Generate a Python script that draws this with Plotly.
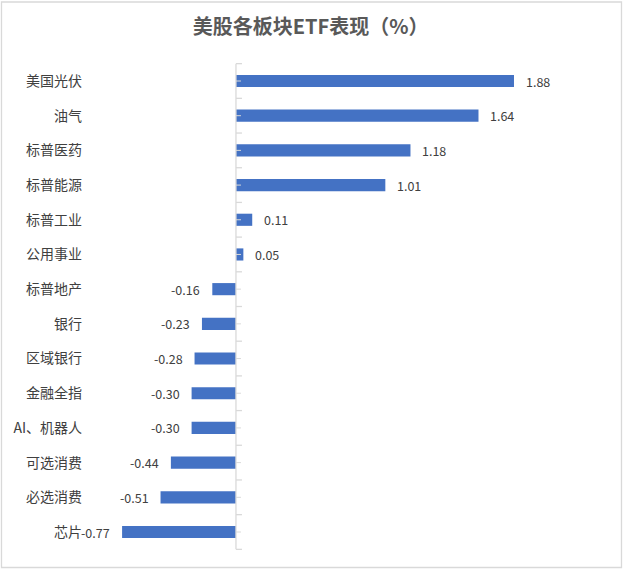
import plotly.graph_objects as go

categories = ["美国光伏", "油气", "标普医药", "标普能源", "标普工业", "公用事业", "标普地产",
              "银行", "区域银行", "金融全指", "AI、机器人", "可选消费", "必选消费", "芯片"]
values = [1.88, 1.64, 1.18, 1.01, 0.11, 0.05, -0.16, -0.23, -0.28, -0.30, -0.30, -0.44, -0.51, -0.77]
value_labels = ["1.88", "1.64", "1.18", "1.01", "0.11", "0.05", "-0.16", "-0.23", "-0.28",
                "-0.30", "-0.30", "-0.44", "-0.51", "-0.77"]
title_text = "美股各板块ETF表现（%）"

W, H = 625, 573
ML, MR, MT, MB = 90, 35, 63, 23
plot_w = W - ML - MR
plot_h = H - MT - MB
xmin, xmax = -0.987, 2.394

FONT = "Noto Sans CJK SC, Microsoft YaHei, sans-serif"
TXT = "#404040"
AX = "#d9d9d9"

fig = go.Figure(go.Bar(
    x=values, y=categories, orientation="h",
    marker=dict(color="#4472C4", line=dict(width=0)),
    hoverinfo="skip",
))

annotations = []
for c, v, lab in zip(categories, values, value_labels):
    annotations.append(dict(
        x=v, y=c, xref="x", yref="y", text=lab, showarrow=False,
        xanchor="left" if v >= 0 else "right",
        xshift=10 if v >= 0 else -10,
        font=dict(family=FONT, size=12.5, color=TXT),
    ))

shapes = []
n = len(categories)
# axis line at zero
shapes.append(dict(type="line", xref="x", yref="y", x0=0, x1=0, y0=-0.5, y1=n - 0.5,
                   line=dict(color=AX, width=1.3), layer="above"))
# tick marks at category boundaries
for i in range(n + 1):
    shapes.append(dict(type="line", xref="x", yref="y", xsizemode="pixel", xanchor=0,
                       x0=0, x1=6, y0=i - 0.5, y1=i - 0.5,
                       line=dict(color=AX, width=1.3), layer="above"))
# minor tick marks at category centres
for i in range(n):
    shapes.append(dict(type="line", xref="x", yref="y", xsizemode="pixel", xanchor=0,
                       x0=0, x1=5, y0=i, y1=i,
                       line=dict(color=AX, width=1), layer="above"))

# outer border
bx0 = (1.5 - ML) / plot_w
bx1 = (621.5 - ML) / plot_w
by0 = 1 - (567.5 - MT) / plot_h
by1 = 1 + (MT - 2) / plot_h
shapes.append(dict(type="rect", xref="paper", yref="paper", x0=bx0, x1=bx1, y0=by0, y1=by1,
                   line=dict(color=AX, width=1.3), layer="below"))

fig.update_layout(
    width=W, height=H,
    margin=dict(l=ML, r=MR, t=MT, b=MB),
    paper_bgcolor="white", plot_bgcolor="white",
    bargap=0.65,
    showlegend=False,
    title=dict(text=title_text, x=0.497, xref="container", xanchor="center",
               y=1 - 27 / H, yref="container", yanchor="middle",
               font=dict(family=FONT, size=20, color="#595959", weight="bold")),
    xaxis=dict(range=[xmin, xmax], showgrid=False, zeroline=False, showline=False,
               showticklabels=False, ticks="", fixedrange=True),
    yaxis=dict(categoryorder="array", categoryarray=categories, autorange="reversed",
               showgrid=False, zeroline=False, showline=False, ticks="",
               tickfont=dict(family=FONT, size=14, color=TXT),
               ticklabelstandoff=7, fixedrange=True),
    annotations=annotations,
    shapes=shapes,
)

fig.write_html("out.html")
